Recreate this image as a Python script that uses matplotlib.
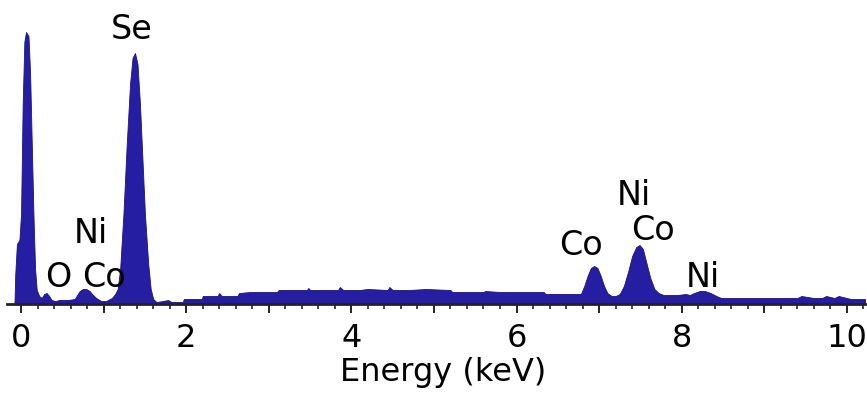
import matplotlib
matplotlib.use("Agg")
import matplotlib.pyplot as plt
from matplotlib.ticker import MultipleLocator, FuncFormatter

# EDS spectrum outline: energy (keV) and counts (arbitrary units)
energy = [
    -0.08, -0.07, -0.06, -0.05, -0.02, 0.00, 0.02, 0.04, 0.06, 0.09,
    0.11, 0.13, 0.15, 0.17, 0.19, 0.22, 0.25, 0.28, 0.31, 0.34,
    0.37, 0.41, 0.47, 0.57, 0.65, 0.71, 0.75, 0.79, 0.83, 0.86,
    0.91, 0.97, 1.03, 1.10, 1.14, 1.17, 1.20, 1.24, 1.28, 1.32,
    1.35, 1.38, 1.41, 1.44, 1.47, 1.50, 1.54, 1.57, 1.60, 1.64,
    1.72, 1.78, 1.82, 1.96, 1.97, 2.19, 2.20, 2.38, 2.40, 2.43,
    2.45, 2.62, 2.64, 2.78, 2.80, 3.10, 3.12, 3.30, 3.32, 3.46,
    3.48, 3.50, 3.62, 3.84, 3.86, 3.90, 4.10, 4.20, 4.44, 4.46,
    4.50, 4.70, 4.90, 5.20, 5.22, 5.60, 5.62, 5.80, 6.10, 6.33,
    6.35, 6.60, 6.78, 6.82, 6.86, 6.90, 6.94, 6.98, 7.02, 7.06,
    7.10, 7.15, 7.20, 7.25, 7.30, 7.35, 7.40, 7.45, 7.49, 7.53,
    7.57, 7.62, 7.67, 7.72, 7.78, 7.85, 7.95, 8.05, 8.10, 8.15,
    8.22, 8.28, 8.35, 8.42, 8.48, 8.60, 8.90, 9.20, 9.40, 9.45,
    9.60, 9.70, 9.75, 9.85, 9.90, 10.00, 10.05, 10.22,
]
counts = [
    0, 30, 45, 60, 64, 90, 200, 262, 272, 268,
    230, 160, 90, 35, 14, 8, 6, 10, 11, 8,
    4, 3, 4, 4, 5, 13, 15, 15, 13, 10,
    6, 3, 3, 6, 10, 15, 35, 90, 160, 220,
    246, 251, 240, 200, 145, 90, 40, 15, 5, 2,
    3, 4, 2, 2, 5, 5, 8, 8, 11, 8,
    8, 8, 11, 12, 12, 12, 14, 14, 14, 14,
    16, 14, 14, 14, 17, 14, 14, 15, 14, 17,
    14, 14, 15, 14, 12, 12, 13, 12, 12, 12,
    10, 10, 10, 18, 28, 36, 38, 36, 28, 18,
    11, 8, 8, 10, 18, 32, 48, 57, 59, 55,
    42, 26, 15, 11, 9, 9, 9, 10, 9, 11,
    13, 13, 11, 8, 6, 6, 6, 6, 6, 8,
    6, 6, 8, 6, 8, 6, 5, 5,
]

# Element annotations: label, energy position, height of text baseline
peak_labels = ["Se", "Ni", "O", "Co", "Co", "Ni", "Co", "Ni"]
label_x = [1.344, 0.85, 0.45, 1.00, 6.78, 7.42, 7.65, 8.26]
label_y = [265, 61, 17, 17, 49, 99, 64, 17]

tick_values = [0, 2, 4, 6, 8, 10]

fill_color = "#261ea2"
plt.rcParams["font.family"] = ["DejaVu Sans"]
LABEL_SIZE = 24
AXIS_SIZE = 23

fig = plt.figure(figsize=(8.67, 4.03), dpi=100)
ax = fig.add_axes([7 / 867, 99 / 403, 858 / 867, 300 / 403])

ax.fill_between(energy, counts, 0, color=fill_color, linewidth=0.6,
                edgecolor="#1a1480")

for text, x, y in zip(peak_labels, label_x, label_y):
    ax.text(x, y, text, ha="center", va="baseline", fontsize=LABEL_SIZE,
            color="black")

ax.set_xlim(-0.17, 10.22)
ax.set_ylim(0, 300)

for side in ("left", "right", "top"):
    ax.spines[side].set_visible(False)
ax.spines["bottom"].set_linewidth(2)
ax.spines["bottom"].set_color("#222222")
ax.set_yticks([])

ax.xaxis.set_major_locator(MultipleLocator(1))
ax.xaxis.set_minor_locator(MultipleLocator(0.2))
ax.xaxis.set_major_formatter(
    FuncFormatter(lambda v, pos: f"{v:.0f}" if round(v) in tick_values
                  and abs(v - round(v)) < 1e-6 else ""))
ax.tick_params(axis="x", which="major", length=6.5, width=1.4,
               color="#222222", labelsize=AXIS_SIZE, pad=7.0)
ax.tick_params(axis="x", which="minor", length=3.6, width=1.2,
               color="#222222")
ax.set_xlabel("Energy (keV)", fontsize=AXIS_SIZE)
ax.xaxis.label.set_va("baseline")
ax.xaxis.set_label_coords(0.508, -0.2567)

fig.savefig("out.png", dpi=100)
